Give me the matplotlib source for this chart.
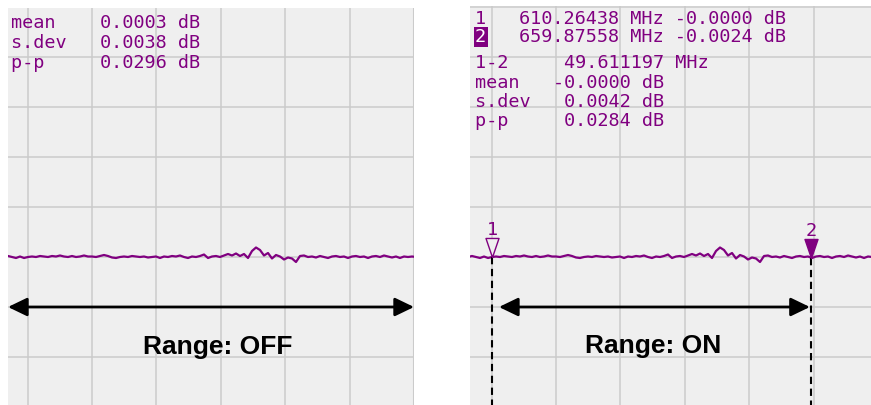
import numpy as np
import matplotlib
matplotlib.use("Agg")
import matplotlib.pyplot as plt
from matplotlib.patches import ArrowStyle
from matplotlib.path import Path

# ---- measured sweep (transmission magnitude, dB) ----
sweep_start_mhz = 606.53
sweep_stop_mhz = 670.61
trace_db = [
    0.000, 0.002, 0.000, -0.002, 0.001, -0.002, 0.000, 0.001, 0.000, 0.002,
    0.001, 0.000, 0.002, 0.001, 0.003, 0.001, 0.000, 0.002, 0.000, 0.001,
    0.003, 0.001, 0.001, 0.000, 0.002, 0.004, 0.002, -0.001, -0.002, 0.000,
    0.001, 0.000, 0.002, 0.001, 0.000, 0.001, -0.001, 0.000, 0.001, -0.002,
    0.001, 0.000, 0.002, 0.001, 0.003, 0.000, -0.002, 0.001, 0.000, 0.002,
    0.005, -0.002, 0.001, 0.002, 0.000, 0.003, 0.006, 0.003, 0.007, 0.002,
    0.006, -0.002, 0.012, 0.019, 0.014, 0.003, 0.008, -0.003, 0.004, 0.001,
    -0.005, -0.001, -0.003, -0.010, 0.002, 0.003, 0.000, 0.001, -0.001, 0.002,
    0.000, -0.002, 0.001, 0.002, 0.000, 0.001, -0.002, 0.001, 0.002, 0.000,
    0.001, -0.002, 0.001, 0.002, 0.000, 0.003, 0.001, -0.001, 0.001, -0.002,
    0.001, 0.000, 0.001, 0.000,
]
freq_mhz = np.linspace(sweep_start_mhz, sweep_stop_mhz, len(trace_db))

# ---- markers ----
marker_names = ["1", "2"]
marker_freqs = [610.26438, 659.87558]
marker_vals = [-0.0000, -0.0024]
delta_name = "1-2"
delta_mhz = "49.611197"

# ---- statistics readouts ----
stat_names = ["mean", "s.dev", "p-p"]
stats_off = ["0.0003", "0.0038", "0.0296"]
stats_on = ["-0.0000", "0.0042", "0.0284"]

# ---- display scale ----
view_off = (607.15, 670.30)
view_on = (606.84, 669.21)
db_top_off, db_top_on, db_bottom = 0.498, 0.502, -0.296
div_db = 0.1
grid_f0, grid_step = 610.19, 10.023

W, H = 871, 405
PURPLE = "#800080"
SCREEN = "#efefef"
GRID = "#cbcbcb"
MONO = "DejaVu Sans Mono"
FS = 13.3
CHAR_PX = 0.602 * FS * 100 / 72  # advance of one monospace cell in pixels

fig = plt.figure(figsize=(W / 100, H / 100), dpi=100)
fig.patch.set_facecolor("white")


def px(x, y):
    return x / W, 1 - y / H


def make_screen(left, top, right, view, db_top):
    ax = fig.add_axes([left / W, 0, (right - left) / W, (H - top) / H])
    ax.set_facecolor(SCREEN)
    ax.set_xlim(*view)
    ax.set_ylim(db_bottom, db_top)
    for s in ax.spines.values():
        s.set_visible(False)
    ax.set_xticks([])
    ax.set_yticks([])
    for k in range(-2, 8):
        ax.axvline(grid_f0 + k * grid_step, color=GRID, lw=1.1, zorder=1)
    for k in range(-3, 6):
        ax.axhline(k * div_db, color=GRID, lw=1.1, zorder=1)
    ax.plot(freq_mhz, trace_db, color=PURPLE, lw=1.6, zorder=3)
    return ax


ax_off = make_screen(8, 8, 414, view_off, db_top_off)
ax_on = make_screen(470, 6, 871, view_on, db_top_on)
ax_off.axvline(view_off[1], color=GRID, lw=1.5, zorder=1)


def mono(x, y, s, **kw):
    kw.setdefault("color", PURPLE)
    return fig.text(*px(x, y), s, family=MONO, fontsize=FS, va="baseline",
                    ha="left", **kw)


# ---- readouts, left screen ----
for name, val, yb in zip(stat_names, stats_off, [28.3, 48.3, 68.3]):
    mono(11, yb, f"{name:<8}{val} dB")

# ---- readouts, right screen ----
x0 = 475
mono(x0, 23.5, marker_names[0])
mono(x0 + 4 * CHAR_PX, 23.5, f"{marker_freqs[0]:.5f} MHz -{abs(marker_vals[0]):.4f} dB")
mono(x0, 42, marker_names[1], bbox=dict(boxstyle="square,pad=0.08", fc=PURPLE, ec="none"))
fig.texts[-1].set_color("white")
mono(x0 + 4 * CHAR_PX, 42, f"{marker_freqs[1]:.5f} MHz {marker_vals[1]:.4f} dB")
mono(x0, 68, f"{delta_name:<8}{delta_mhz} MHz")
for name, val, yb in zip(stat_names, stats_on, [87.5, 107, 126]):
    pad = 7 if val.startswith("-") else 8
    mono(x0, yb, f"{name:<{pad}}{val} dB")

# ---- markers with dashed drop lines ----
tri = Path([(0, 0), (-6.5, 19), (6.5, 19), (0, 0)],
           [Path.MOVETO, Path.LINETO, Path.LINETO, Path.CLOSEPOLY])
for i, (name, f, v) in enumerate(zip(marker_names, marker_freqs, marker_vals)):
    ax_on.plot([f, f], [v, db_bottom], color="black", lw=1.5,
               dashes=(3.5, 2.2), zorder=4)
    ax_on.plot([f], [v], marker=tri, ms=27.4, mew=1.0, mec=PURPLE,
               mfc=(SCREEN if i == 0 else PURPLE), zorder=5, linestyle="none")
    ax_on.annotate(name, (f, v), xytext=(0, 16.0), textcoords="offset points",
                   ha="center", va="baseline", family=MONO, fontsize=FS,
                   color=PURPLE, zorder=6)

# ---- range arrows ----
arrow = ArrowStyle("<|-|>", head_length=0.58, head_width=0.28)
ax_off.annotate("", xy=(1, -div_db), xytext=(0, -div_db),
                xycoords=("axes fraction", "data"), textcoords=("axes fraction", "data"),
                arrowprops=dict(arrowstyle=arrow, mutation_scale=20, lw=2.0,
                                color="black", shrinkA=0, shrinkB=0), zorder=6)
ax_on.annotate("", xy=(marker_freqs[1], -div_db), xytext=(marker_freqs[0], -div_db),
               arrowprops=dict(arrowstyle=arrow, mutation_scale=20, lw=2.0,
                               color="black", shrinkA=5, shrinkB=0.8), zorder=6)

fig.text(*px(218, 354), "Range: OFF", family="Liberation Sans", weight="bold",
         fontsize=19, ha="center", va="baseline", color="black")
fig.text(*px(653, 353), "Range: ON", family="Liberation Sans", weight="bold",
         fontsize=19, ha="center", va="baseline", color="black")

fig.savefig("out.png", dpi=100, facecolor="white")
